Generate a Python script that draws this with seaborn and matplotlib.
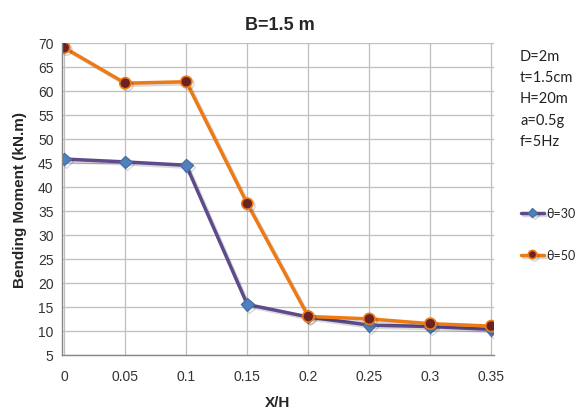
import matplotlib
matplotlib.use("Agg")
import matplotlib.pyplot as plt
import matplotlib.patheffects as pe
import seaborn as sns
import pandas as pd

x_h = [0, 0.05, 0.1, 0.15, 0.2, 0.25, 0.3, 0.35]
theta30 = [45.8, 45.2, 44.5, 15.5, 12.9, 11.2, 10.9, 10.3]
theta50 = [69.0, 61.6, 61.9, 36.5, 13.0, 12.5, 11.5, 11.0]
series_names = ["θ=30", "θ=50"]
xticks = [0, 0.05, 0.1, 0.15, 0.2, 0.25, 0.3, 0.35]
xtick_labels = ["0", "0.05", "0.1", "0.15", "0.2", "0.25", "0.3", "0.35"]
yticks = list(range(5, 75, 5))
params = ["D=2m", "t=1.5cm", "H=20m", "a=0.5g", "f=5Hz"]

sns.set_theme(style="whitegrid")
plt.rcParams["font.family"] = ["Liberation Sans", "DejaVu Sans"]

fig = plt.figure(figsize=(5.83, 4.10), dpi=100)
ax = fig.add_axes([0.106, 0.132, 0.741, 0.761])

df30 = pd.DataFrame({"x": x_h, "y": theta30})
df50 = pd.DataFrame({"x": x_h, "y": theta50})

shadow = [pe.SimpleLineShadow(offset=(1.5, -1.5), alpha=0.15, shadow_color="black"), pe.Normal()]

sns.lineplot(data=df30, x="x", y="y", ax=ax, color="#5F4A8B", linewidth=2.5,
             marker="D", markersize=6.5, markerfacecolor="#4F81BD",
             markeredgecolor="#4A6FA5", markeredgewidth=1.0, label=series_names[0],
             path_effects=shadow)
sns.lineplot(data=df50, x="x", y="y", ax=ax, color="#EE7A16", linewidth=2.5,
             marker="o", markersize=8, markerfacecolor="#6B2222",
             markeredgecolor="#EE7A16", markeredgewidth=1.2, label=series_names[1],
             path_effects=shadow)

ax.set_xlim(-0.002, 0.352)
ax.set_ylim(5, 70)
ax.set_xticks(xticks)
ax.set_xticklabels(xtick_labels)
ax.set_yticks(yticks)
ax.tick_params(axis="both", labelsize=10, colors="#333333", length=0)
ax.tick_params(axis="x", pad=10)
ax.tick_params(axis="y", pad=6)
ax.grid(True, color="#BFBFBF", linewidth=0.9)
ax.set_facecolor("white")
for s in ["top", "right"]:
    ax.spines[s].set_visible(False)
for s in ["left", "bottom"]:
    ax.spines[s].set_color("#868686")
    ax.spines[s].set_linewidth(1.0)

ax.set_xlabel("X/H", fontsize=11, fontweight="bold", labelpad=9)
ax.set_ylabel("Bending Moment (kN.m)", fontsize=11, fontweight="bold", labelpad=8)
ax.set_title("B=1.5 m", fontsize=13, fontweight="bold", pad=10, x=0.505)

for i, t in enumerate(params):
    fig.text(0.892, 0.862 - i * 0.052, t, fontsize=10.5, family=["Lato", "DejaVu Sans"],
             color="#222222", va="center")

leg = ax.legend(loc="center left", bbox_to_anchor=(0.893, 0.427),
                bbox_transform=fig.transFigure, frameon=False, borderpad=0,
                borderaxespad=0, handlelength=1.9, labelspacing=2.4, handletextpad=0.15,
                markerscale=0.75,
                prop={"family": ["Lato", "DejaVu Sans"], "size": 9})

fig.savefig("out.png", dpi=100, facecolor="white")
